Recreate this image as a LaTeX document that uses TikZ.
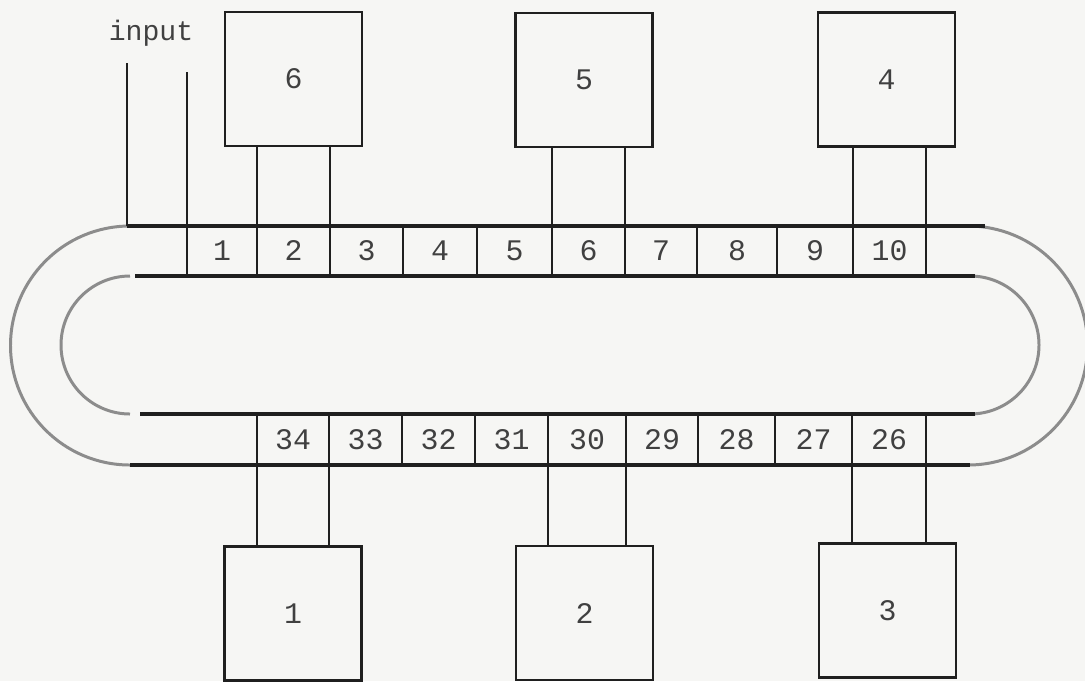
\documentclass[tikz,border=0pt]{standalone}
\usepackage{fontspec}
\setmonofont{Liberation Mono}
\usetikzlibrary{positioning}
\definecolor{paper}{rgb}{0.965,0.965,0.955}
\definecolor{ink}{rgb}{0.12,0.12,0.12}
\definecolor{type}{rgb}{0.25,0.25,0.25}
\tikzset{
  unit/.style={draw=ink, line width=1.5pt, minimum width=2.74cm, minimum height=2.68cm, inner sep=0pt, outer sep=0pt, text=type, font=\ttfamily\fontsize{17}{19}\selectfont},
  cell/.style={draw=ink, line width=1.4pt, anchor=north west, inner sep=0pt, outer sep=0pt, text=type, font=\ttfamily\fontsize{17}{19}\selectfont},
  rail/.style={ink, line width=1.8pt},
  track/.style={black!45, line width=1.7pt},
  link/.style={ink, line width=1.5pt}
}

\begin{document}
\begin{tikzpicture}[x=0.02cm, y=-0.02cm]
        % Page and background
        \useasboundingbox (0,0) rectangle (1085,681);
        \fill[paper] (0,0) rectangle (1085,681);

        % Curved ends of the ring
        \draw[track] (130,226) arc[start angle=270, end angle=90, radius=119.5];
        \draw[track] (130,276) arc[start angle=270, end angle=90, radius=69];
        \draw[track] (968,226) arc[start angle=-90, end angle=90, radius=119.5];
        \draw[track] (970,276) arc[start angle=-90, end angle=90, radius=69];

        % Straight parts of the ring
        \draw[rail] (127,226) -- (985,226);
        \draw[rail] (135,276) -- (975,276);
        \draw[rail] (140,414) -- (975,414);
        \draw[rail] (130,465) -- (970,465);

        % Top row of cells
        \foreach \n/\xl/\xr in {1/187/257, 2/257/330, 3/330/403, 4/403/477, 5/477/552,
                                6/552/625, 7/625/697, 8/697/777, 9/777/853, 10/853/926} {
            \pgfmathsetmacro{\w}{(\xr-\xl)*0.02}
            \node[cell, minimum width=\w cm, minimum height=1cm] (t\n) at (\xl,226) {\n};
          }

        % Bottom row of cells
        \foreach \n/\xl/\xr in {34/257/329, 33/329/402, 32/402/475, 31/475/548, 30/548/626,
                                29/626/698, 28/698/775, 27/775/852, 26/852/926} {
            \pgfmathsetmacro{\w}{(\xr-\xl)*0.02}
            \node[cell, minimum width=\w cm, minimum height=1.02cm] (b\n) at (\xl,414) {\n};
          }

        % Units above and below the ring
        \node[unit] (box6) at (293.5,79) {6};
        \node[unit] (box5) at (584,80) {5};
        \node[unit] (box4) at (886.5,79.5) {4};
        \node[unit] (box1) at (293,613.5) {1};
        \node[unit] (box2) at (584.5,613) {2};
        \node[unit] (box3) at (887.5,610.5) {3};

        % Links from units to their cells
        \foreach \u/\c in {6/t2, 5/t6, 4/t10} {
            \draw[link] (box\u.south -| \c.north west) -- (\c.north west);
            \draw[link] (box\u.south -| \c.north east) -- (\c.north east);
          }
        \foreach \u/\c in {1/b34, 2/b30, 3/b26} {
            \draw[link] (\c.south west) -- (box\u.north -| \c.south west);
            \draw[link] (\c.south east) -- (box\u.north -| \c.south east);
          }

        % Input lines
        \node[text=type, font=\ttfamily\fontsize{16}{18}\selectfont] (inlabel) at (151,33) {input};
        \coordinate (in1) at (127,63);
        \coordinate (in2) at (187,72);
        \draw[link] (in1) -- (in1 |- t1.north west);
        \draw[link] (in2) -- (t1.north west);
      \end{tikzpicture}
\end{document}
